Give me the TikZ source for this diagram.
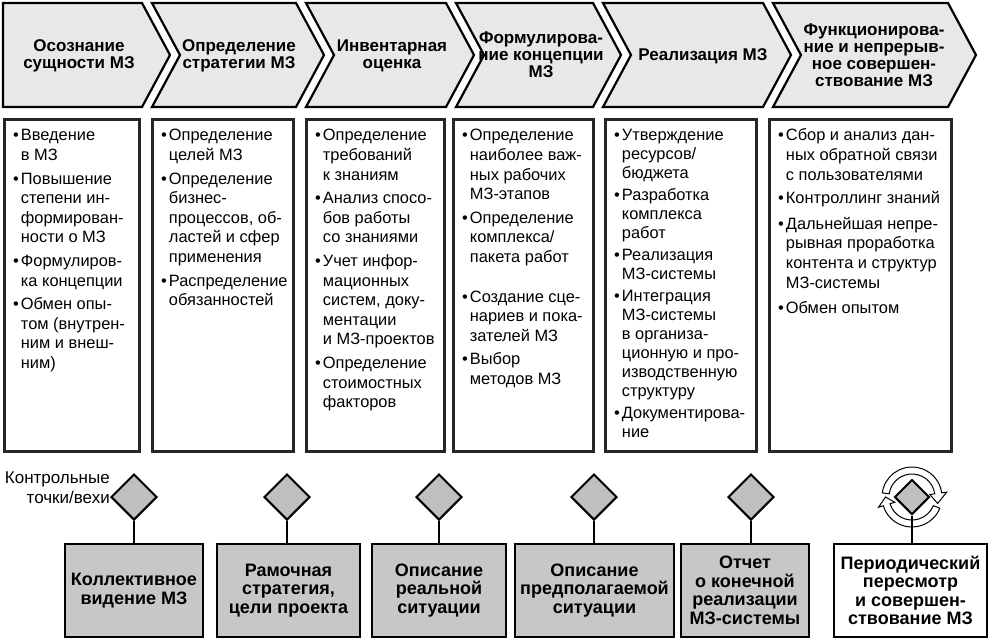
\documentclass[tikz,border=0pt]{standalone}
\usepackage{fontspec}
\setmainfont{Liberation Sans}
\usetikzlibrary{shapes.geometric}
\usetikzlibrary{calc}

\begin{document}
\begin{tikzpicture}[x=1pt,y=1pt]
\tikzstyle{chev}=[draw,line width=2.2pt,fill=black!9,line join=miter]
\tikzstyle{phase}=[font=\fontsize{17}{17}\selectfont\bfseries,align=center,inner sep=0pt]
\tikzstyle{liste}=[rectangle,draw=black!85,line width=2.5pt,fill=white,anchor=north west,minimum height=332pt]
\tikzstyle{texte}=[anchor=north west,inner sep=0pt,font=\fontsize{16.4}{19.6}\selectfont]
\tikzstyle{jalon}=[diamond,draw,line width=2pt,fill=black!25,minimum width=46pt,minimum height=46pt,inner sep=0pt]
\tikzstyle{resultat}=[rectangle,draw,line width=2.2pt,fill=black!22,minimum height=93pt,align=center,inner sep=0pt,font=\fontsize{18}{18.5}\selectfont\bfseries]
\tikzstyle{tige}=[line width=2pt]

\useasboundingbox (0,0) rectangle (994,-641);

% phases
\draw[chev] (3,-3) -- (142,-3) -- (170,-55) -- (142,-107) -- (3,-107) -- cycle;
\foreach \l/\r in {152/296,306/446,456/593,603/763,773/948}
  \draw[chev] (\l,-3) -- (\r,-3) -- (\r+28,-55) -- (\r,-107) -- (\l,-107) -- (\l+28,-55) -- cycle;

\node[phase] (p1) at (79,-56) {Осознание\\сущности МЗ};
\node[phase] (p2) at (239,-56) {Определение\\стратегии МЗ};
\node[phase] (p3) at (392,-56) {Инвентарная\\оценка};
\node[phase] (p4) at (541,-55) {Формулирова-\\ние концепции\\МЗ};
\node[phase] (p5) at (703,-56) {Реализация МЗ};
\node[phase] (p6) at (874,-55) {Функционирова-\\ние и непрерыв-\\ное совершен-\\ствование МЗ};

% taches
\node[liste,minimum width=135pt] (b1) at (3,-118) {};
\node[liste,minimum width=141pt] (b2) at (151,-118) {};
\node[liste,minimum width=138pt] (b3) at (305,-118) {};
\node[liste,minimum width=140pt] (b4) at (452,-118) {};
\node[liste,minimum width=151pt] (b5) at (604,-118) {};
\node[liste,minimum width=182pt] (b6) at (768,-118) {};

\node[texte] (t1) at (13,-127) {\begin{tabular}{@{}l@{\hspace{2pt}}l@{}}
\textbullet & Введение\\
 & в МЗ\\[4pt]
\textbullet & Повышение\\
 & степени ин-\\
 & формирован-\\
 & ности о МЗ\\[4pt]
\textbullet & Формулиров-\\
 & ка концепции\\[4pt]
\textbullet & Обмен опы-\\
 & том (внутрен-\\
 & ним и внеш-\\
 & ним)
\end{tabular}};
\node[texte] (t2) at (161,-127) {\begin{tabular}{@{}l@{\hspace{2pt}}l@{}}
\textbullet & Определение\\
 & целей МЗ\\[4pt]
\textbullet & Определение\\
 & бизнес-\\
 & процессов, об-\\
 & ластей и сфер\\
 & применения\\[4pt]
\textbullet & Распределение\\
 & обязанностей
\end{tabular}};
\node[texte] (t3) at (315,-127) {\begin{tabular}{@{}l@{\hspace{2pt}}l@{}}
\textbullet & Определение\\
 & требований\\
 & к знаниям\\[4pt]
\textbullet & Анализ спосо-\\
 & бов работы\\
 & со знаниями\\[4pt]
\textbullet & Учет инфор-\\
 & мационных\\
 & систем, доку-\\
 & ментации\\
 & и МЗ-проектов\\[4pt]
\textbullet & Определение\\
 & стоимостных\\
 & факторов
\end{tabular}};
\node[texte] (t4) at (462,-127) {\begin{tabular}{@{}l@{\hspace{2pt}}l@{}}
\textbullet & Определение\\
 & наиболее важ-\\
 & ных рабочих\\
 & МЗ-этапов\\[4pt]
\textbullet & Определение\\
 & комплекса/\\
 & пакета работ\\[20pt]
\textbullet & Создание сце-\\
 & нариев и пока-\\
 & зателей МЗ\\[4pt]
\textbullet & Выбор\\
 & методов МЗ
\end{tabular}};
\node[texte,font=\fontsize{16.4}{19}\selectfont] (t5) at (614,-127) {\begin{tabular}{@{}l@{\hspace{2pt}}l@{}}
\textbullet & Утверждение\\
 & ресурсов/\\
 & бюджета\\[3pt]
\textbullet & Разработка\\
 & комплекса\\
 & работ\\[3pt]
\textbullet & Реализация\\
 & МЗ-системы\\[3pt]
\textbullet & Интеграция\\
 & МЗ-системы\\
 & в организа-\\
 & ционную и про-\\
 & изводственную\\
 & структуру\\[3pt]
\textbullet & Документирова-\\
 & ние
\end{tabular}};
\node[texte] (t6) at (778,-127) {\begin{tabular}{@{}l@{\hspace{2pt}}l@{}}
\textbullet & Сбор и анализ дан-\\
 & ных обратной связи\\
 & с пользователями\\[4pt]
\textbullet & Контроллинг знаний\\[6pt]
\textbullet & Дальнейшая непре-\\
 & рывная проработка\\
 & контента и структур\\
 & МЗ-системы\\[6pt]
\textbullet & Обмен опытом
\end{tabular}};

% vehi
\node[align=right,anchor=east,inner sep=0pt,font=\fontsize{17}{20}\selectfont] (vehi) at (110,-488) {Контрольные\\точки/вехи};

\node[jalon] (j1) at (134,-497) {};
\node[jalon] (j2) at (287,-497) {};
\node[jalon] (j3) at (439,-497) {};
\node[jalon] (j4) at (594,-497) {};
\node[jalon] (j5) at (751,-497) {};
\node[jalon,minimum width=35pt,minimum height=35pt] (j6) at (912,-497) {};

\node[resultat,minimum width=138pt] (r1) at (134,-590.5) {Коллективное\\видение МЗ};
\node[resultat,minimum width=143pt] (r2) at (288.5,-590.5) {Рамочная\\стратегия,\\цели проекта};
\node[resultat,minimum width=134pt] (r3) at (439,-590.5) {Описание\\реальной\\ситуации};
\node[resultat,minimum width=159pt] (r4) at (594.5,-590.5) {Описание\\предполагаемой\\ситуации};
\node[resultat,minimum width=128pt] (r5) at (745,-590.5) {Отчет\\о конечной\\реализации\\МЗ-системы};
\node[resultat,minimum width=153pt,fill=white] (r6) at (910.5,-590.5) {Периодический\\пересмотр\\и совершен-\\ствование МЗ};

% cycle
\begin{scope}[shift={(j6.center)}]
\filldraw[fill=white,line width=1pt] (172:30) arc[start angle=172,end angle=8,radius=30] -- (8:35) -- (-14:26.5) -- (8:18) -- (8:23) arc[start angle=8,end angle=172,radius=23] -- cycle;
\filldraw[fill=white,line width=1pt] (-22:30) arc[start angle=-22,end angle=-163,radius=30] -- (-163:35) -- (-180:26.5) -- (-163:18) -- (-163:23) arc[start angle=-163,end angle=-22,radius=23] -- cycle;
\end{scope}

\foreach \i in {1,...,6}
  \draw[tige] (j\i.south) -- (j\i.south |- r\i.north);

\end{tikzpicture}
\end{document}
